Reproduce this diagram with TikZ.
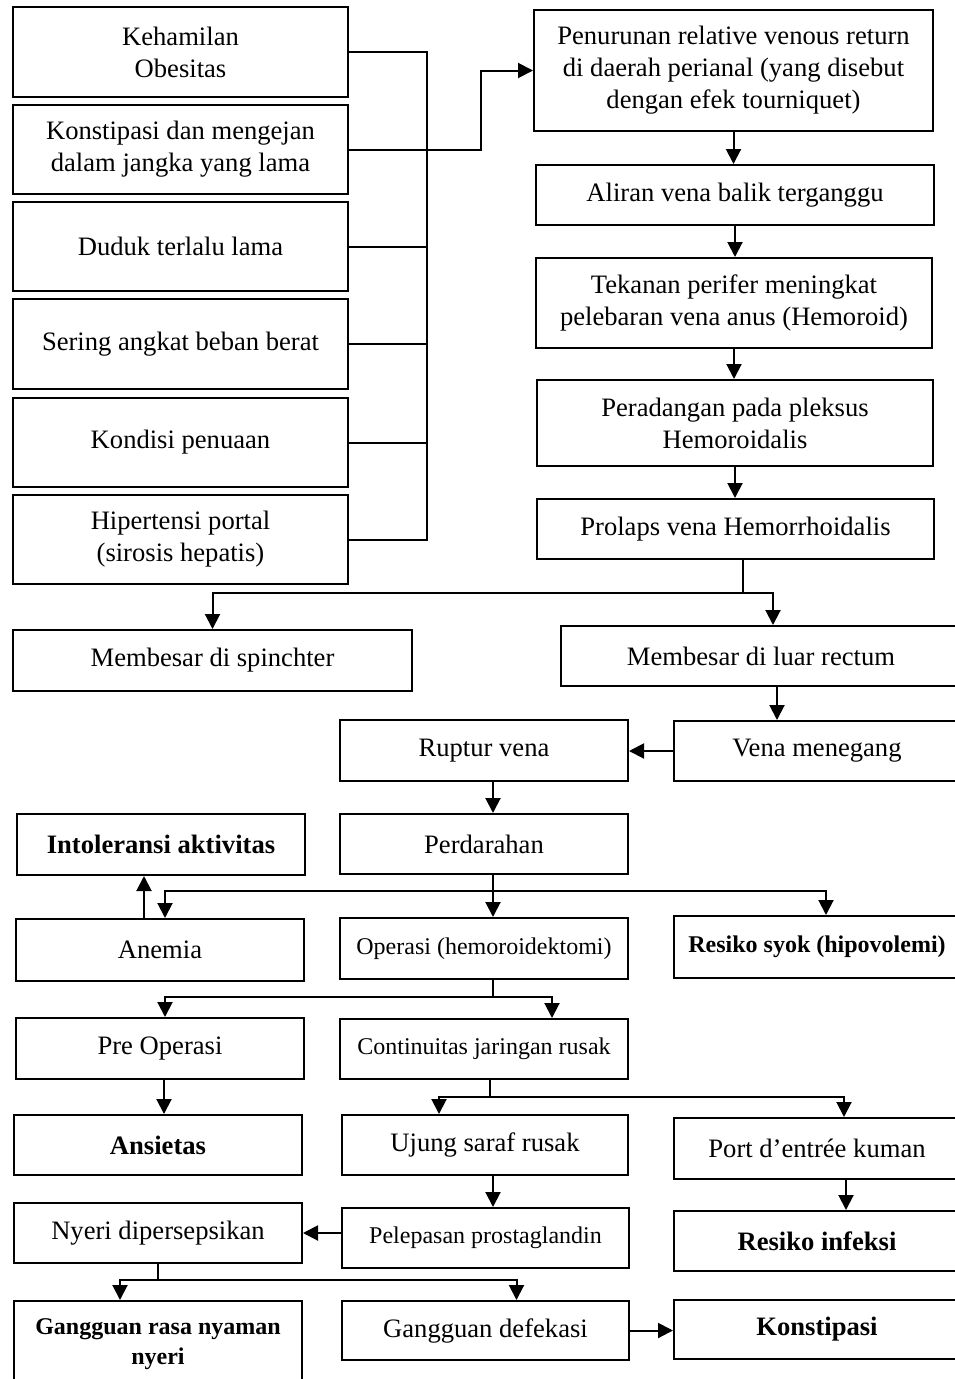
\documentclass[tikz,border=0pt]{standalone}
\usepackage{fontspec}
\setmainfont{Liberation Serif}
\usetikzlibrary{arrows.meta}
\newcommand{\bigfont}{\fontsize{26.6}{32}\selectfont}
\newcommand{\smallfont}{\fontsize{24}{30}\selectfont}

\begin{document}
\begin{tikzpicture}[x=1pt,y=-1pt,line join=miter,
  box/.style={draw,line width=2pt,anchor=north west,align=center,inner sep=0pt,font=\bigfont},
  line/.style={line width=2pt},
  arr/.style={line width=2pt,-{Triangle[length=15pt,width=15pt]}}]
\useasboundingbox (0,0) rectangle (955,1379);
\node[box,minimum width=335pt,minimum height=90pt] (keham) at (12,6) {Kehamilan\\Obesitas};
\node[box,minimum width=335pt,minimum height=89pt] (konst) at (12,104) {Konstipasi dan mengejan\\dalam jangka yang lama};
\node[box,minimum width=335pt,minimum height=89pt] (duduk) at (12,201) {Duduk terlalu lama};
\node[box,minimum width=335pt,minimum height=90pt] (sering) at (12,298) {Sering angkat beban berat};
\node[box,minimum width=335pt,minimum height=89pt] (penuaan) at (12,397) {Kondisi penuaan};
\node[box,minimum width=335pt,minimum height=89pt] (portal) at (12,494) {Hipertensi portal\\(sirosis hepatis)};
\node[box,minimum width=399pt,minimum height=121pt] (venous) at (533,9) {Penurunan relative venous return\\di daerah perianal (yang disebut\\dengan efek tourniquet)};
\node[box,minimum width=398pt,minimum height=60pt] (aliran) at (535,164) {Aliran vena balik terganggu};
\node[box,minimum width=396pt,minimum height=90pt] (tekanan) at (535,257) {Tekanan perifer meningkat\\pelebaran vena anus (Hemoroid)};
\node[box,minimum width=396pt,minimum height=86pt] (radang) at (536,379) {Peradangan pada pleksus\\Hemoroidalis};
\node[box,minimum width=397pt,minimum height=60pt] (prolaps) at (536,498) {Prolaps vena Hemorrhoidalis};
\node[box,minimum width=399pt,minimum height=61pt] (sphincter) at (12,629) {Membesar di spinchter};
\node[box,minimum width=400pt,minimum height=60pt] (rectum) at (560,625) {Membesar di luar rectum};
\node[box,minimum width=288pt,minimum height=61pt] (ruptur) at (339,719) {Ruptur vena};
\node[box,minimum width=286pt,minimum height=60pt] (tegang) at (673,720) {Vena menegang};
\node[box,minimum width=288pt,minimum height=60pt] (darah) at (339,813) {Perdarahan};
\node[box,font=\bigfont\bfseries,minimum width=288pt,minimum height=61pt] (intol) at (16,813) {Intoleransi aktivitas};
\node[box,minimum width=288pt,minimum height=62pt] (anemia) at (15,918) {Anemia};
\node[box,font=\smallfont,minimum width=288pt,minimum height=61pt] (operasi) at (339,917) {Operasi (hemoroidektomi)};
\node[box,font=\smallfont\bfseries,minimum width=286pt,minimum height=62pt] (syok) at (673,915) {Resiko syok (hipovolemi)};
\node[box,minimum width=288pt,minimum height=61pt] (preop) at (15,1017) {Pre Operasi};
\node[box,font=\smallfont,minimum width=288pt,minimum height=60pt] (jaringan) at (339,1018) {Continuitas jaringan rusak};
\node[box,font=\bigfont\bfseries,minimum width=288pt,minimum height=60pt] (ansietas) at (13,1114) {Ansietas};
\node[box,minimum width=286pt,minimum height=60pt] (saraf) at (341,1114) {Ujung saraf rusak};
\node[box,minimum width=286pt,minimum height=61pt] (kuman) at (673,1117) {Port d’entrée kuman};
\node[box,minimum width=288pt,minimum height=60pt] (nyeri) at (13,1202) {Nyeri dipersepsikan};
\node[box,font=\smallfont,minimum width=287pt,minimum height=60pt] (prosta) at (341,1207) {Pelepasan prostaglandin};
\node[box,font=\bigfont\bfseries,minimum width=286pt,minimum height=60pt] (infeksi) at (673,1210) {Resiko infeksi};
\node[box,font=\smallfont\bfseries,minimum width=288pt,minimum height=86pt] (nyaman) at (13,1300) {Gangguan rasa nyaman\\nyeri};
\node[box,minimum width=287pt,minimum height=59pt] (defekasi) at (341,1300) {Gangguan defekasi};
\node[box,font=\bigfont\bfseries,minimum width=286pt,minimum height=59pt] (konstipasi) at (673,1299) {Konstipasi};
\coordinate (bus) at (427,0);
\draw[line] (keham.east) -- (keham.east -| bus) -- (portal.east -| bus) -- (portal.east);
\foreach \n in {konst,duduk,sering,penuaan}
  \draw[line] (\n.east) -- (\n.east -| bus);
\draw[arr] (konst.east -| bus) -- ++(54,0) |- (venous.west);
\draw[arr] (venous.south) -- (venous.south |- aliran.north);
\draw[arr] (aliran.south) -- (aliran.south |- tekanan.north);
\draw[arr] (tekanan.south) -- (tekanan.south |- radang.north);
\draw[arr] (radang.south) -- (radang.south |- prolaps.north);
\draw[line] ([xshift=7pt]prolaps.south) -- ++(0,33) coordinate (pk);
\draw[arr] (pk) -| (sphincter.north);
\draw[arr] (pk) -| ([xshift=12pt]rectum.north);
\draw[arr] ([xshift=16pt]rectum.south) -- ([xshift=16pt]rectum.south |- tegang.north);
\draw[arr] (tegang.west) -- (tegang.west -| ruptur.east);
\draw[arr] ([xshift=9pt]ruptur.south) -- ([xshift=9pt]ruptur.south |- darah.north);
\draw[line] ([xshift=9pt]darah.south) -- ++(0,16) coordinate (pd);
\draw[arr] (pd) -| ([xshift=5pt]anemia.north);
\draw[arr] (pd) -- (pd |- operasi.north);
\draw[arr] (pd) -| ([xshift=9pt]syok.north);
\draw[arr] ([xshift=-16pt]anemia.north) -- ([xshift=-16pt]anemia.north |- intol.south);
\draw[line] ([xshift=9pt]operasi.south) -- ++(0,17) coordinate (po);
\draw[arr] (po) -| ([xshift=5pt]preop.north);
\draw[arr] (po) -| ([xshift=68pt]jaringan.north);
\draw[arr] ([xshift=4pt]preop.south) -- ([xshift=4pt]preop.south |- ansietas.north);
\draw[line] ([xshift=6pt]jaringan.south) -- ++(0,17) coordinate (pj);
\draw[arr] (pj) -| ([xshift=-46pt]saraf.north);
\draw[arr] (pj) -| ([xshift=27pt]kuman.north);
\draw[arr] ([xshift=8pt]saraf.south) -- ([xshift=8pt]saraf.south |- prosta.north);
\draw[arr] ([xshift=29pt]kuman.south) -- ([xshift=29pt]kuman.south |- infeksi.north);
\draw[arr] (prosta.west |- nyeri.east) -- (nyeri.east);
\draw[line] (nyeri.south) -- ++(0,16) coordinate (pn);
\draw[arr] (pn) -| ([xshift=-38pt]nyaman.north);
\draw[arr] (pn) -| ([xshift=31pt]defekasi.north);
\draw[arr] (defekasi.east) -- (defekasi.east -| konstipasi.west);
\end{tikzpicture}
\end{document}
